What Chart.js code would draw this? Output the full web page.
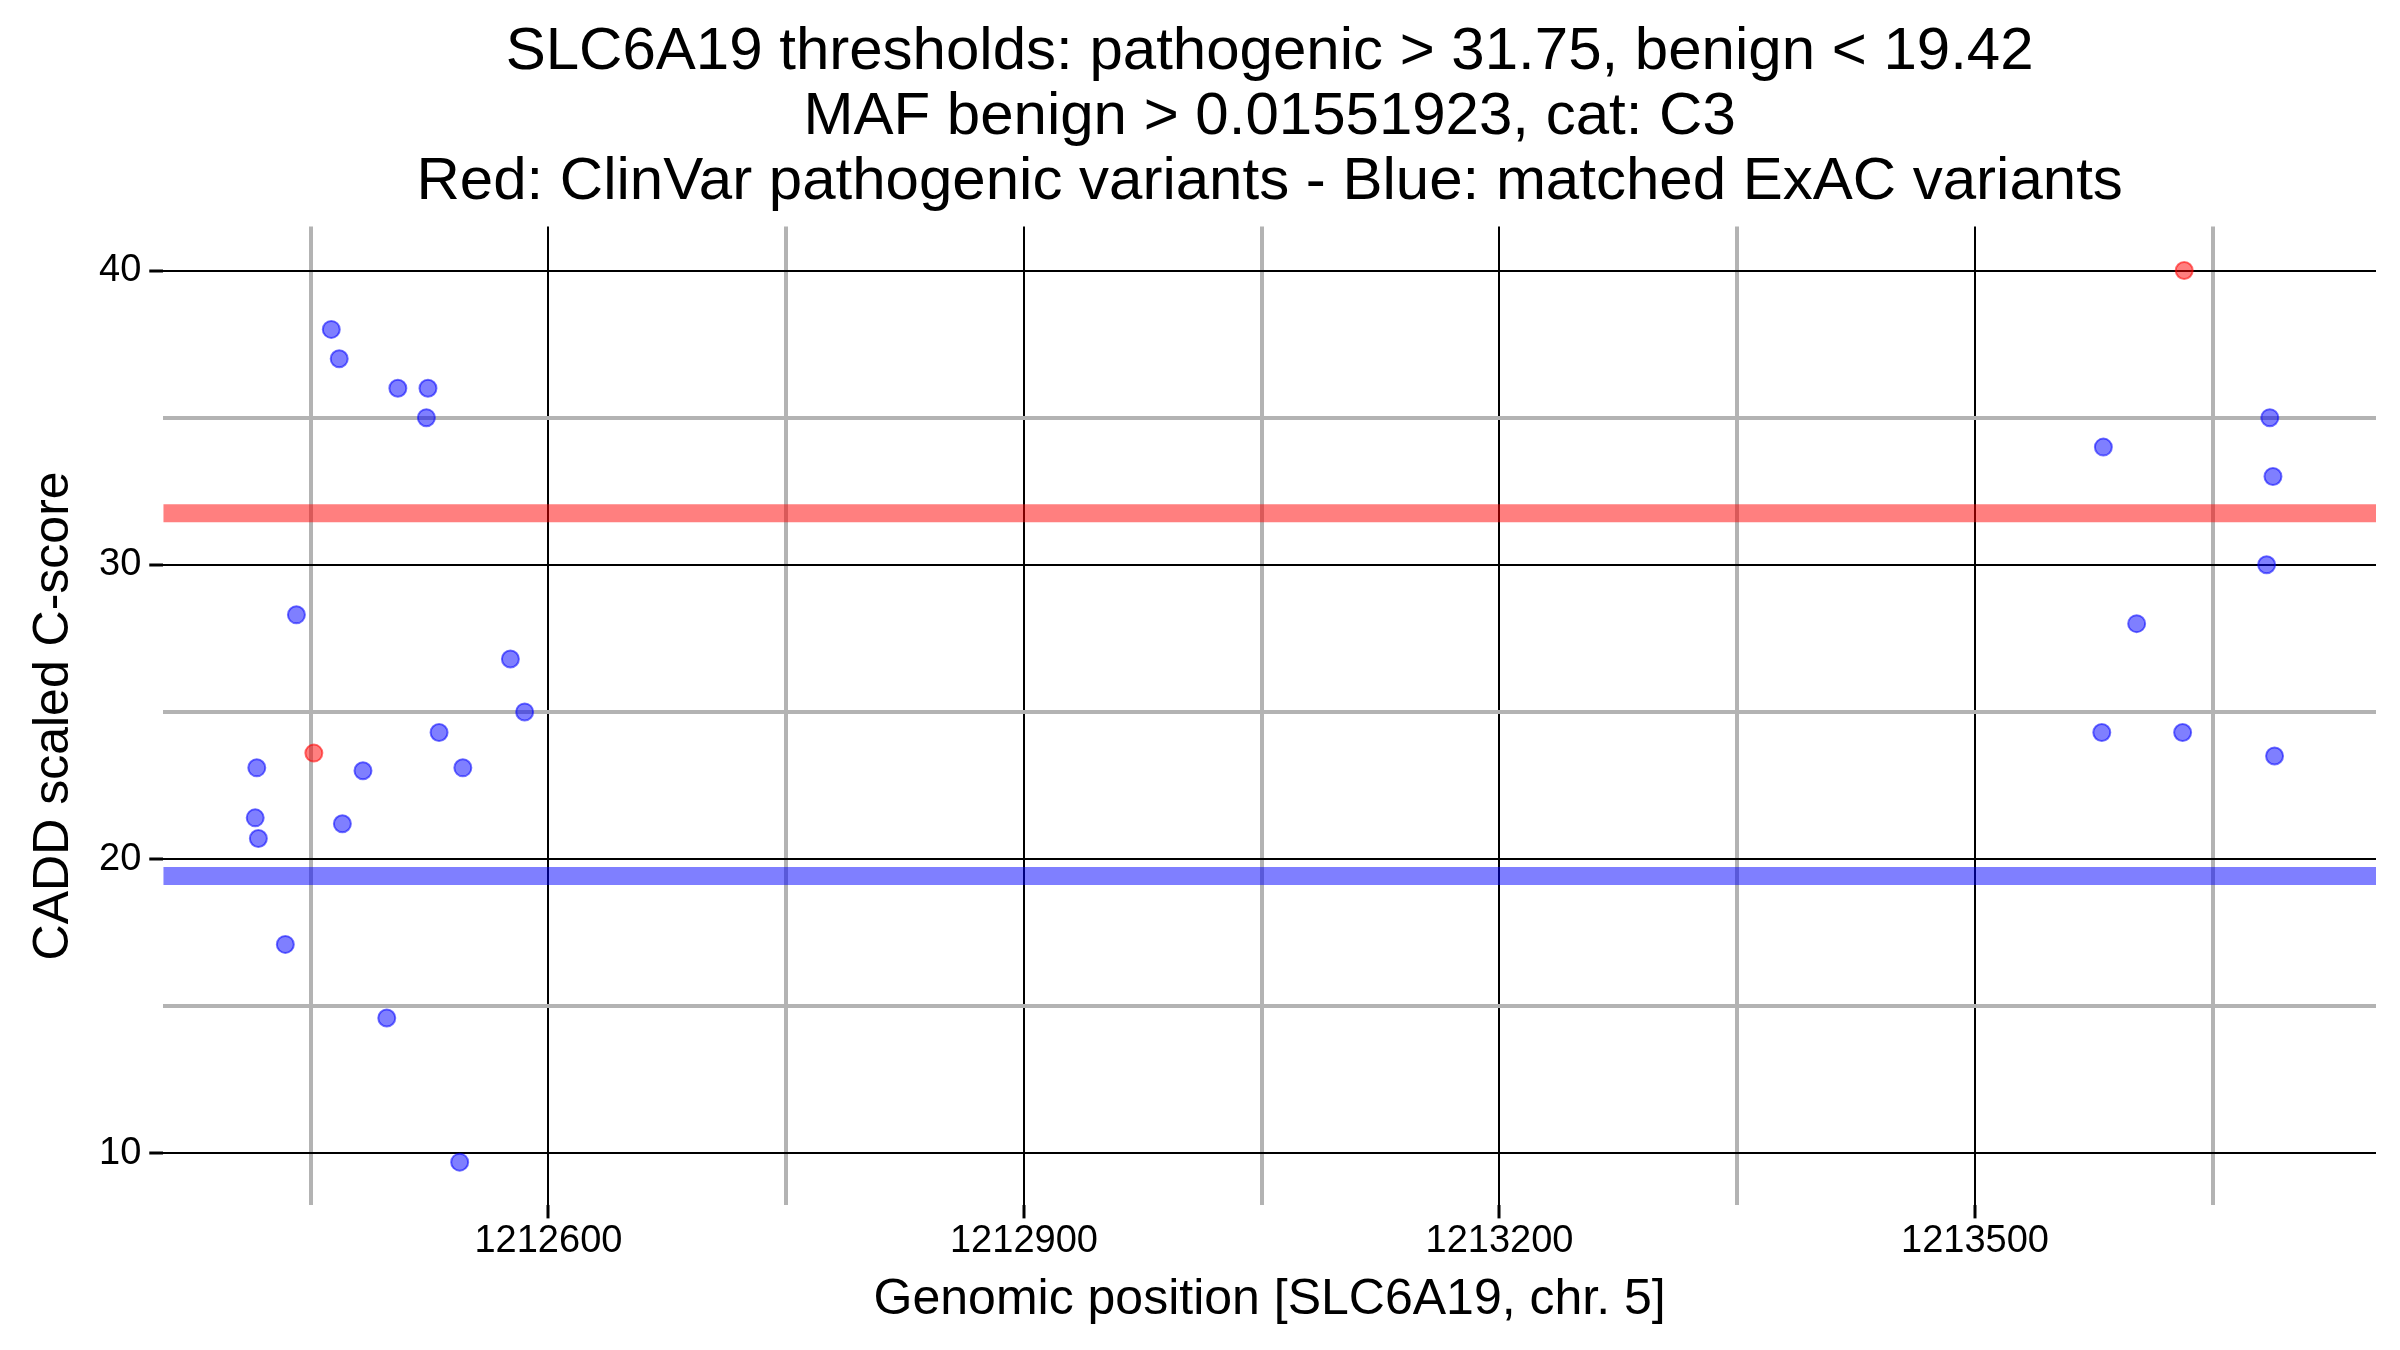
<!DOCTYPE html>
<html>
<head>
<meta charset="utf-8">
<script src="https://cdn.jsdelivr.net/npm/chart.js@4.4.1/dist/chart.umd.min.js"></script>
<style>
    html, body { margin: 0; padding: 0; background: #fff; }
    #wrap { width: 2400px; height: 1350px; position: relative; }
</style>
</head>
<body>
<div id="wrap"><canvas id="caddChart"></canvas></div>
<script>
// ExAC variantes (azul)
const exacPos = [1212463, 1212468, 1212505, 1212524, 1212523, 1212441, 1212576, 1212585,
    1212531, 1212416, 1212483, 1212546, 1212415, 1212470, 1212417, 1212434, 1212498, 1212544,
    1213686, 1213581, 1213688, 1213684, 1213602, 1213580, 1213631, 1213689];
const exacScore = [38, 37, 36, 36, 35, 28.3, 26.8, 25,
    24.3, 23.1, 23.0, 23.1, 21.4, 21.2, 20.7, 17.1, 14.6, 9.7,
    35, 34, 33, 30, 28, 24.3, 24.3, 23.5];

// ClinVar patogenicas (rojo)
const clinvarPos = [1212452, 1213632];
const clinvarScore = [23.6, 40];

// umbrales
const thrPathogenic = 31.75;
const thrBenign = 19.42;

// limites de ejes
const xLimits = [1212357, 1213753];
const yLimits = [8.23, 41.5];

const titleLines = [
    'SLC6A19 thresholds: pathogenic > 31.75, benign < 19.42',
    'MAF benign > 0.01551923, cat: C3',
    'Red: ClinVar pathogenic variants - Blue: matched ExAC variants'
];

const FONT = "'Liberation Sans', Arial, sans-serif";

function toPoints(xs, ys) {
    return xs.map((x, i) => ({ x: x, y: ys[i] }));
}

function hline(value) {
    return [{ x: xLimits[0], y: value }, { x: xLimits[1], y: value }];
}

const ctx = document.getElementById('caddChart');

new Chart(ctx, {
    type: 'scatter',
    data: {
        datasets: [
            {
                label: 'pathogenic threshold',
                type: 'line',
                data: hline(thrPathogenic),
                borderColor: 'rgba(255, 0, 0, 0.5)',
                borderWidth: 18,
                pointRadius: 0,
                borderCapStyle: 'butt',
                order: 3
            },
            {
                label: 'benign threshold',
                type: 'line',
                data: hline(thrBenign),
                borderColor: 'rgba(0, 0, 255, 0.5)',
                borderWidth: 18,
                pointRadius: 0,
                borderCapStyle: 'butt',
                order: 3
            },
            {
                label: 'ExAC',
                data: toPoints(exacPos, exacScore),
                backgroundColor: 'rgba(0, 0, 255, 0.5)',
                borderColor: 'rgba(0, 0, 255, 0.55)',
                borderWidth: 2,
                pointRadius: 8.5,
                order: 1
            },
            {
                label: 'ClinVar',
                data: toPoints(clinvarPos, clinvarScore),
                backgroundColor: 'rgba(255, 0, 0, 0.5)',
                borderColor: 'rgba(255, 0, 0, 0.55)',
                borderWidth: 2,
                pointRadius: 8.5,
                order: 1
            }
        ]
    },
    options: {
        responsive: true,
        maintainAspectRatio: false,
        devicePixelRatio: 1,
        animation: false,
        layout: { padding: { left: 24, right: 24, top: 20, bottom: 20 } },
        plugins: {
            legend: { display: false },
            tooltip: { enabled: false },
            title: {
                display: true,
                fullSize: false,  // centrar sobre el area del grafico
                text: titleLines,
                color: '#000',
                font: { family: FONT, size: 60, weight: 'normal', lineHeight: 1.08 },
                padding: { top: 0, bottom: 12 }
            }
        },
        scales: {
            x: {
                type: 'linear',
                min: xLimits[0],
                max: xLimits[1],
                border: { display: false },
                grid: {
                    color: c => (c.tick && c.tick.value % 300 === 0) ? '#000' : '#b3b3b3',
                    lineWidth: c => (c.tick && c.tick.value % 300 === 0) ? 2 : 4,
                    tickColor: c => (c.tick && c.tick.value % 300 === 0) ? '#000' : 'rgba(0,0,0,0)',
                    tickWidth: 3,
                    tickLength: 13
                },
                ticks: {
                    stepSize: 150,
                    includeBounds: false,
                    autoSkip: false,
                    maxRotation: 0,
                    color: '#000',
                    padding: 0,
                    font: { family: FONT, size: 38 },
                    callback: v => (v % 300 === 0) ? String(v) : ''
                },
                title: {
                    display: true,
                    text: 'Genomic position [SLC6A19, chr. 5]',
                    color: '#000',
                    font: { family: FONT, size: 50 },
                    padding: { top: 6, bottom: 0 }
                }
            },
            y: {
                type: 'linear',
                min: yLimits[0],
                max: yLimits[1],
                border: { display: false },
                grid: {
                    color: c => (c.tick && c.tick.value % 10 === 0) ? '#000' : '#b3b3b3',
                    lineWidth: c => (c.tick && c.tick.value % 10 === 0) ? 2 : 4,
                    tickColor: c => (c.tick && c.tick.value % 10 === 0) ? '#000' : 'rgba(0,0,0,0)',
                    tickWidth: 3,
                    tickLength: 14
                },
                ticks: {
                    stepSize: 5,
                    includeBounds: false,
                    autoSkip: false,
                    color: '#000',
                    padding: 8,
                    font: { family: FONT, size: 38 },
                    callback: v => (v % 10 === 0) ? String(v) : ''
                },
                title: {
                    display: true,
                    text: 'CADD scaled C-score',
                    color: '#000',
                    font: { family: FONT, size: 50 },
                    padding: { top: 0, bottom: 7 }
                }
            }
        }
    }
});
</script>
</body>
</html>
